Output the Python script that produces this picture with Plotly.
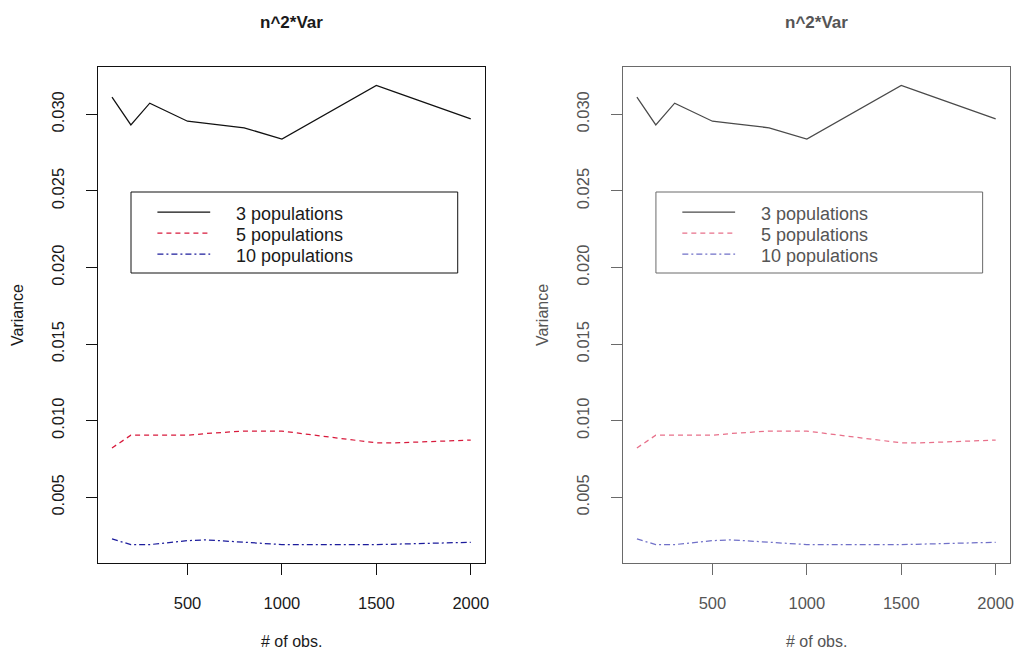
import plotly.graph_objects as go

# ---- data ----
obs = [100, 200, 300, 500, 600, 800, 1000, 1500, 1600, 2000]
pop3 = [0.03113, 0.02931, 0.03073, 0.02955, 0.02941, 0.02912, 0.02839, 0.03189, 0.03145, 0.02971]
pop5 = [0.00823, 0.00906, 0.00906, 0.00906, 0.00917, 0.00933, 0.00933, 0.00856, 0.00856, 0.00874]
pop10 = [0.00229, 0.00192, 0.00192, 0.00218, 0.00223, 0.00207, 0.00192, 0.00192, 0.00195, 0.00207]
series_names = ["3 populations", "5 populations", "10 populations"]
x_ticks = [500, 1000, 1500, 2000]
y_ticks = [0.005, 0.010, 0.015, 0.020, 0.025, 0.030]
panel_title = "n^2*Var"
x_title = "# of obs."
y_title = "Variance"

OFF = 8  # page body margin
W, H = 1027 - 2 * OFF, 662 - 2 * OFF
FONT = "Liberation Sans, Arial, sans-serif"

# two panels: the right one is a softer (greyer) copy
panels = [
    dict(dx=0, ax="", frame="#111111", text="#1a1a1a",
         colors=["#111111", "#d81a3c", "#1c1c9c"]),
    dict(dx=527, ax="2", frame="#6a6a6a", text="#555555",
         colors=["#4a4a4a", "#e8708a", "#7070c8"]),
]
dashes = ["solid", "5px,4px", "6px,3px,2px,3px"]
values = [pop3, pop5, pop10]

fig = go.Figure()
shapes, annotations = [], []


def px(x):
    return (x - OFF) / W


def py(y):
    return 1 - (y - OFF) / H


for p in panels:
    dx = p["dx"]
    xa = "x" + p["ax"]
    ya = "y" + p["ax"]
    for name, vals, col, dsh in zip(series_names, values, p["colors"], dashes):
        fig.add_trace(go.Scatter(x=obs, y=vals, mode="lines", name=name,
                                 line=dict(color=col, width=1.25, dash=dsh),
                                 xaxis=xa, yaxis=ya, showlegend=False))
    axis_common = dict(showline=True, mirror=True, linecolor=p["frame"], linewidth=1,
                       ticks="outside", ticklen=11, tickcolor=p["frame"], tickwidth=1,
                       showgrid=False, zeroline=False,
                       tickfont=dict(family=FONT, size=16.5, color=p["text"]))
    xd = [px(98 + dx), px(487 + dx)]
    yd = [py(563), py(67)]
    fig.update_layout(**{
        "xaxis" + p["ax"]: dict(domain=xd, range=[24, 2076], tickvals=x_ticks,
                                ticklabelstandoff=14, anchor=ya, **axis_common),
        "yaxis" + p["ax"]: dict(domain=yd, range=[0.00072, 0.03309], tickvals=y_ticks,
                                tickformat=".3f", tickangle=-90, ticklabelstandoff=15,
                                anchor=xa, **axis_common),
    })
    cx = px(292.5 + dx)
    annotations.append(dict(text="<b>%s</b>" % panel_title, x=cx, y=py(22), xref="paper",
                            yref="paper", showarrow=False, xanchor="center", yanchor="middle",
                            font=dict(family=FONT, size=17, color=p["text"])))
    annotations.append(dict(text=x_title, x=cx, y=py(641), xref="paper", yref="paper",
                            showarrow=False, xanchor="center", yanchor="middle",
                            font=dict(family=FONT, size=16, color=p["text"])))
    annotations.append(dict(text=y_title, x=px(18 + dx), y=py(315), xref="paper",
                            yref="paper", showarrow=False, xanchor="center", yanchor="middle",
                            textangle=-90, font=dict(family=FONT, size=16, color=p["text"])))
    # legend box
    shapes.append(dict(type="rect", xref="paper", yref="paper",
                       x0=px(131.5 + dx), x1=px(459.5 + dx), y0=py(273), y1=py(192),
                       line=dict(color=p["frame"], width=1), fillcolor="white"))
    for i, (name, col, dsh) in enumerate(zip(series_names, p["colors"], dashes)):
        yy = 212 + 21 * i
        shapes.append(dict(type="line", xref="paper", yref="paper",
                           x0=px(158 + dx), x1=px(211 + dx), y0=py(yy), y1=py(yy),
                           line=dict(color=col, width=1.25, dash=dsh)))
        annotations.append(dict(text=name, x=px(235 + dx), y=py(yy + 2), xref="paper",
                                yref="paper", showarrow=False, xanchor="left",
                                yanchor="middle",
                                font=dict(family=FONT, size=18, color=p["text"])))

fig.update_layout(width=W, height=H, autosize=False,
                  margin=dict(l=0, r=0, t=0, b=0),
                  paper_bgcolor="white", plot_bgcolor="white",
                  shapes=shapes, annotations=annotations, showlegend=False)

fig.write_html("out.html")
